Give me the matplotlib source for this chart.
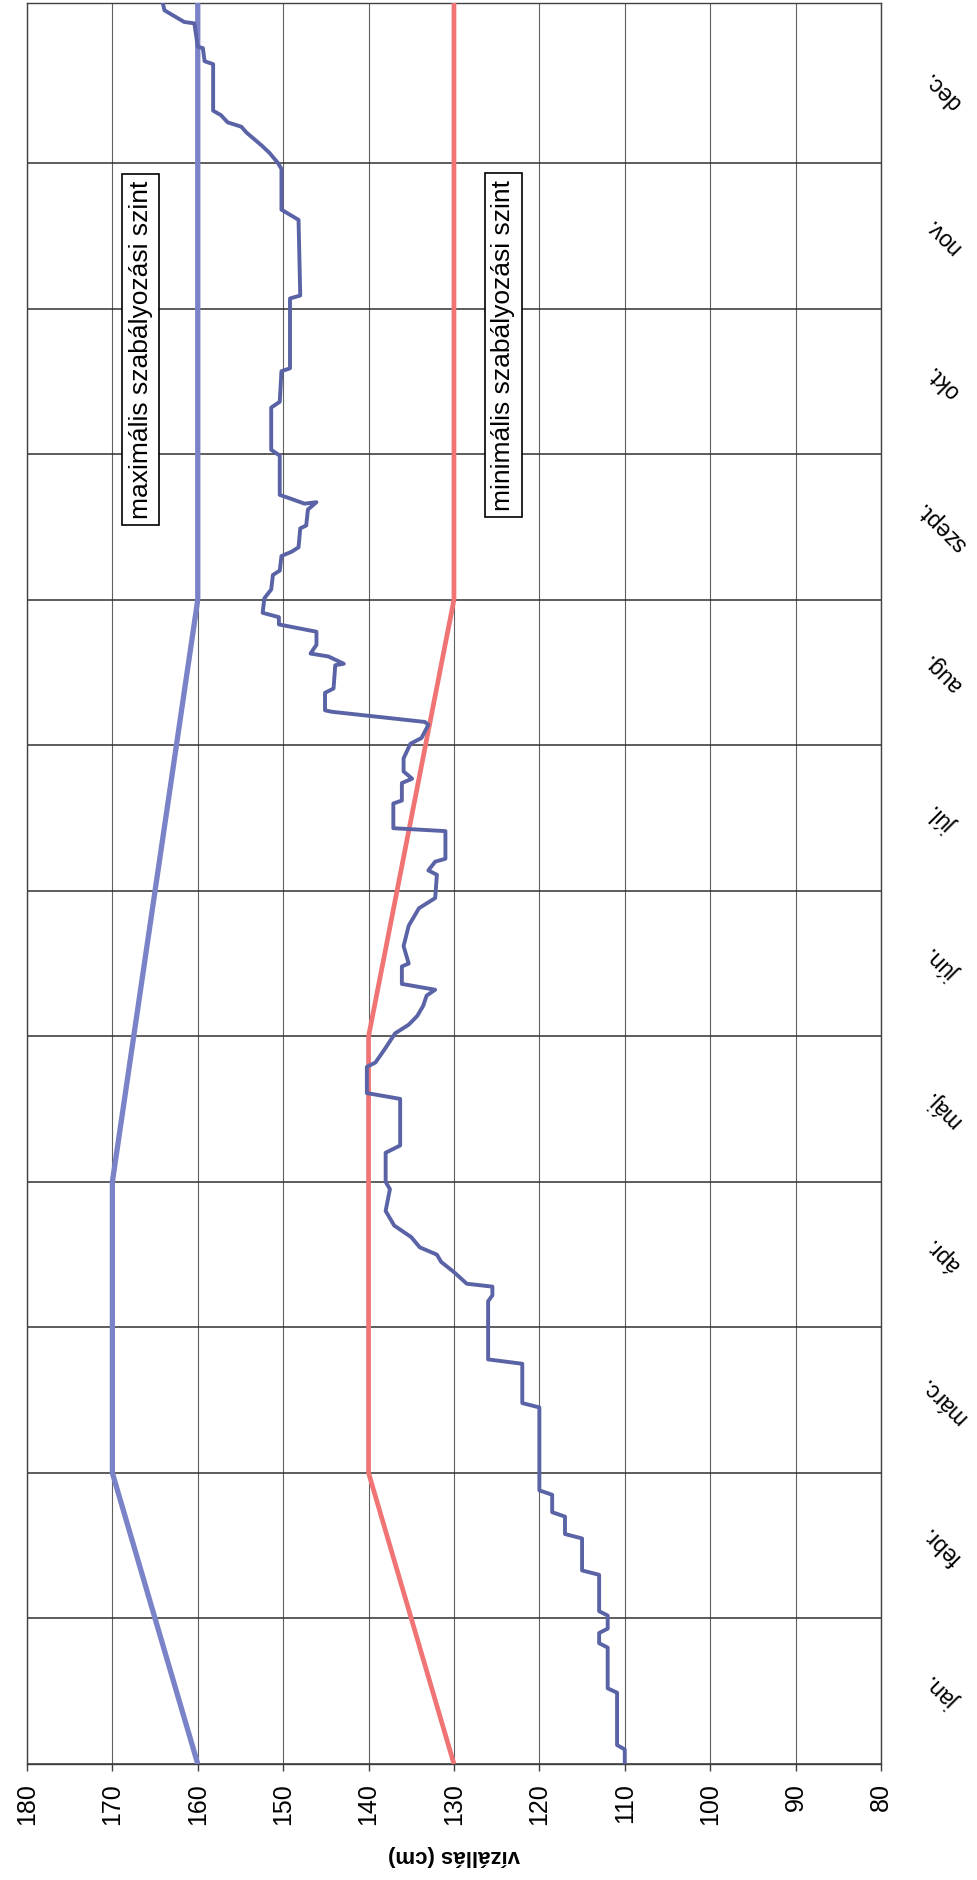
import matplotlib
matplotlib.use("Agg")
import matplotlib.pyplot as plt

plt.rcParams['font.family'] = ['Liberation Sans', 'DejaVu Sans']

# hónapok (a sávok közepére írva)
honapok = ['jan.', 'febr.', 'márc.', 'ápr.', 'máj.', 'jún.',
           'júl.', 'aug.', 'szept.', 'okt.', 'nov.', 'dec.']
vizallas_ticks = [180, 170, 160, 150, 140, 130, 120, 110, 100, 90, 80]

# szabályozási szintek (idő hónapban, szint cm-ben)
max_ido = [0, 2, 4, 8, 12.1]
max_szint = [160, 170, 170, 160, 160]
min_ido = [0, 2, 5, 8, 12.1]
min_szint = [130, 140, 140, 130, 130]

# mért vízállás
ido = [0, 0.10, 0.13, 0.49, 0.52, 0.80, 0.83, 0.90, 0.93, 1.02, 1.05,
       1.30, 1.33, 1.55, 1.58, 1.70, 1.73, 1.85, 1.88, 2.45, 2.48, 2.75,
       2.78, 3.18, 3.22, 3.28, 3.30, 3.38, 3.45, 3.50, 3.55, 3.62, 3.70,
       3.80, 3.95, 4.00, 4.20, 4.25, 4.57, 4.61, 4.79, 4.82, 4.87, 4.93,
       5.02, 5.08, 5.14, 5.21, 5.28, 5.32, 5.36, 5.48, 5.50, 5.62, 5.76,
       5.88, 5.95, 6.11, 6.14, 6.20, 6.22, 6.41, 6.43, 6.60, 6.62, 6.74,
       6.77, 6.82, 6.91, 7.01, 7.05, 7.14, 7.16, 7.23, 7.24, 7.36, 7.39,
       7.55, 7.56, 7.61, 7.63, 7.69, 7.78, 7.83, 7.88, 7.91, 8.01, 8.07,
       8.17, 8.20, 8.30, 8.33, 8.36, 8.49, 8.51, 8.62, 8.67, 8.66, 8.70,
       8.72, 8.99, 9.03, 9.32, 9.36, 9.57, 9.59, 10.07, 10.09, 10.61,
       10.68, 10.96, 11.00, 11.07, 11.12, 11.17, 11.21, 11.25, 11.28,
       11.33, 11.36, 11.68, 11.70, 11.79, 11.80, 11.96, 11.97, 12.05, 12.1]
szint = [110, 110, 110.9, 110.9, 112, 112, 113, 113, 112, 112, 113,
         113, 115, 115, 117, 117, 118.5, 118.5, 120, 120, 122, 122,
         126, 126, 125.5, 125.5, 128.5, 130, 131.5, 132, 134, 135, 137,
         138, 137.5, 138, 138, 136.3, 136.3, 140.2, 140.2, 139.2, 138.6, 137.9,
         136.9, 135.3, 134.3, 133.6, 133.2, 132.2, 136.1, 136.1, 135.3, 135.9, 135.3,
         134.1, 132.2, 132.0, 133.0, 132.2, 131.0, 131.0, 137.1, 137.1, 136.1, 136.1,
         134.9, 135.9, 135.9, 135.1, 133.8, 133.0, 133.4, 144.3, 145.1, 145.1, 144.1,
         143.9, 142.9, 144.7, 146.8, 146.1, 146.1, 150.5, 150.5, 152.4, 152.2, 151.4,
         151.2, 150.4, 150.2, 149.0, 148.2, 148.0, 147.3, 147.1, 146.1, 147.5, 149.4,
         150.4, 150.4, 151.4, 151.4, 150.4, 150.2, 149.2, 149.2, 148.0, 148.2,
         150.2, 150.2, 150.6, 151.6, 152.5, 153.5, 154.3, 154.9, 156.5,
         157.3, 158.2, 158.2, 159.2, 159.4, 160.0, 160.4, 161.6, 163.9, 164.1]

fig = plt.figure(figsize=(9.77, 18.8), dpi=100)
ax = fig.add_axes([0.0276, 0.0617, 0.8741, 0.9367])

ax.plot(min_szint, min_ido, color='#f07474', lw=3.4, solid_capstyle='butt', zorder=3)
ax.plot(max_szint, max_ido, color='#7a82c8', lw=3.8, solid_capstyle='butt', zorder=3)
ax.plot(szint, ido, color='#5a63a6', lw=2.8, zorder=4)

ax.set_xlim(180, 80)
ax.set_ylim(0, 12.1)

ax.set_xticks(vizallas_ticks)
ax.set_xticklabels([str(v) for v in vizallas_ticks], rotation=90, fontsize=18)
ax.tick_params(axis='x', direction='out', length=5, width=1, color='#404040', pad=9)
ax.grid(axis='x', color='#606060', lw=0.8)

# hónaphatárok: az év végén nincs külön vonal, csak a keret
ax.set_yticks(range(12), minor=True)
ax.set_yticks([k + 0.5 for k in range(12)])
ax.set_yticklabels(honapok, rotation=135, fontsize=16.5, ha='center', va='center')
ax.yaxis.tick_right()
ax.tick_params(axis='y', which='both', length=0, pad=44)
ax.grid(axis='y', which='minor', color='#303030', lw=1.1)

for s in ax.spines.values():
    s.set_color('#404040')
    s.set_linewidth(1.0)

ax.set_xlabel('vízállás (cm)', rotation=180, fontsize=16, fontweight='bold', labelpad=14)

doboz = dict(boxstyle='square,pad=0.25', fc='white', ec='black', lw=1.2)
ax.text(166.7, 9.72, 'maximális szabályozási szint', rotation=90, fontsize=19,
        ha='center', va='center', bbox=doboz, zorder=5)
ax.text(124.2, 9.75, 'minimális szabályozási szint', rotation=90, fontsize=19,
        ha='center', va='center', bbox=doboz, zorder=5)

fig.savefig('out.png', dpi=100)
